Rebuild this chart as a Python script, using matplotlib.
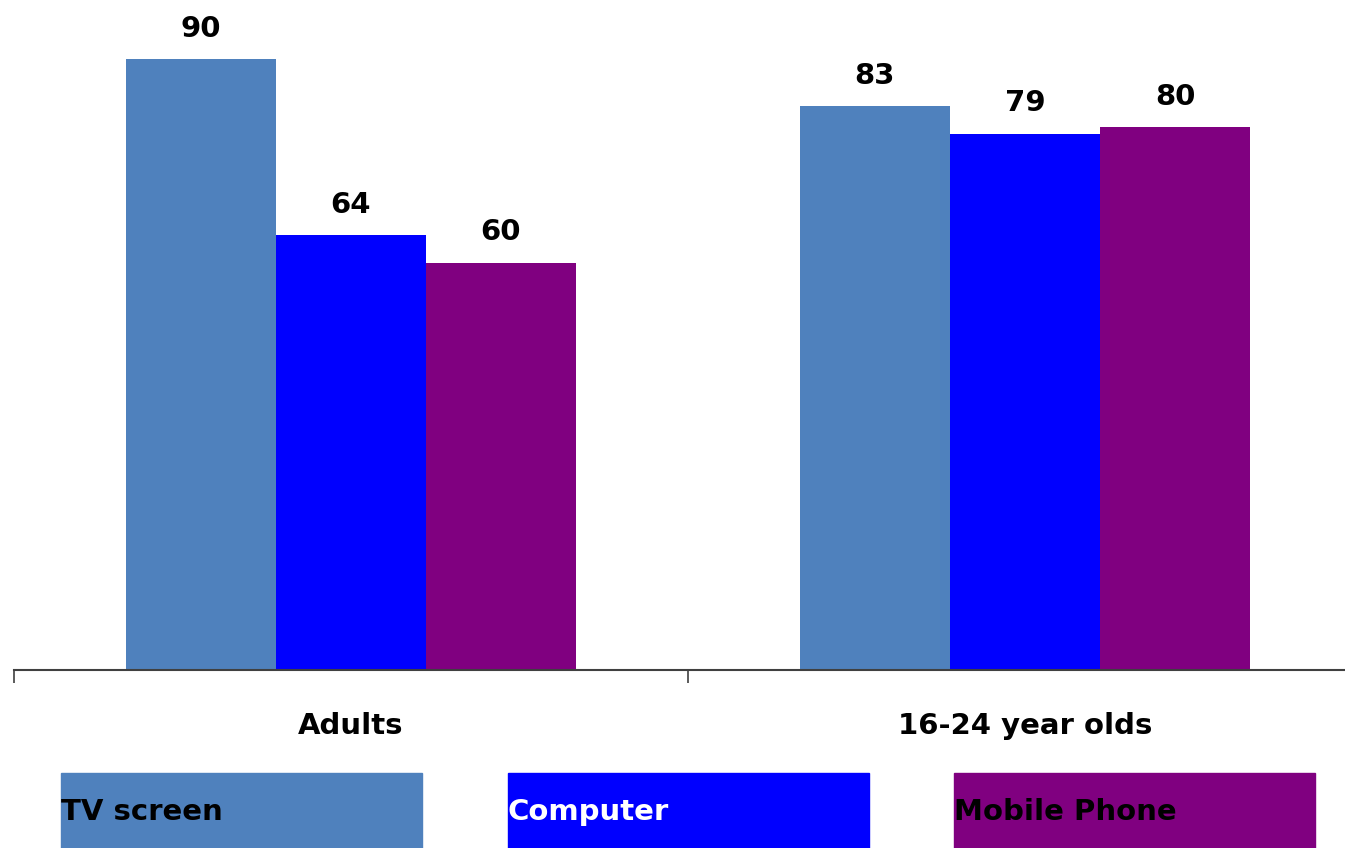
import numpy as np
import matplotlib.pyplot as plt
from matplotlib.patches import Rectangle

# data
groups = ['Adults', '16-24 year olds']
series = ['TV screen', 'Computer', 'Mobile Phone']
tv = [90, 83]
computer = [64, 79]
mobile = [60, 80]

colours = ['#4f81bd', '#0000ff', '#800080']
text_col = ['black', 'white', 'black']

plt.rcParams['font.family'] = ['DejaVu Sans']

fig = plt.figure(figsize=(13.45, 8.48), dpi=100)
ax = fig.add_axes([14/1345, 178/848, 1 - 14/1345, 670/848])

x = np.arange(len(groups))
w = 150/674
for i, vals in enumerate([tv, computer, mobile]):
    bars = ax.bar(x + (i - 1)*w, vals, w, color=colours[i], linewidth=0)
    for b, v in zip(bars, vals):
        ax.annotate(str(v), (b.get_x() + b.get_width()/2, v), xytext=(0, 16),
                    textcoords='offset points', ha='center', va='baseline',
                    fontsize=21, fontweight='bold')

ax.set_xticks([-0.5, 0.5, 1.5])
ax.set_xticklabels([])
ax.set_xticks(x, minor=True)
ax.set_xticklabels(groups, minor=True, fontsize=21, fontweight='bold')
ax.tick_params(axis='x', which='major', direction='out', length=9, width=1.2, color='#404040')
ax.tick_params(axis='x', which='minor', length=0, pad=30)
ax.set_xlim(-0.5, -0.5 + 1331/674)
ax.set_ylim(0, 670/6.79)
ax.set_yticks([])
for s in ['left', 'right', 'top']:
    ax.spines[s].set_visible(False)
ax.spines['bottom'].set_color('#404040')
ax.spines['bottom'].set_linewidth(1.5)

# legend as coloured boxes with the name inside
for i, name in enumerate(series):
    left = (61 + i*446.5)/1345
    fig.patches.append(Rectangle((left, 0), 361/1345, 75/848, transform=fig.transFigure,
                                 color=colours[i], zorder=0))
    fig.text(left, 36/848, name, color=text_col[i], fontsize=21, fontweight='bold',
             ha='left', va='center')

fig.savefig('out.png', dpi=100)
